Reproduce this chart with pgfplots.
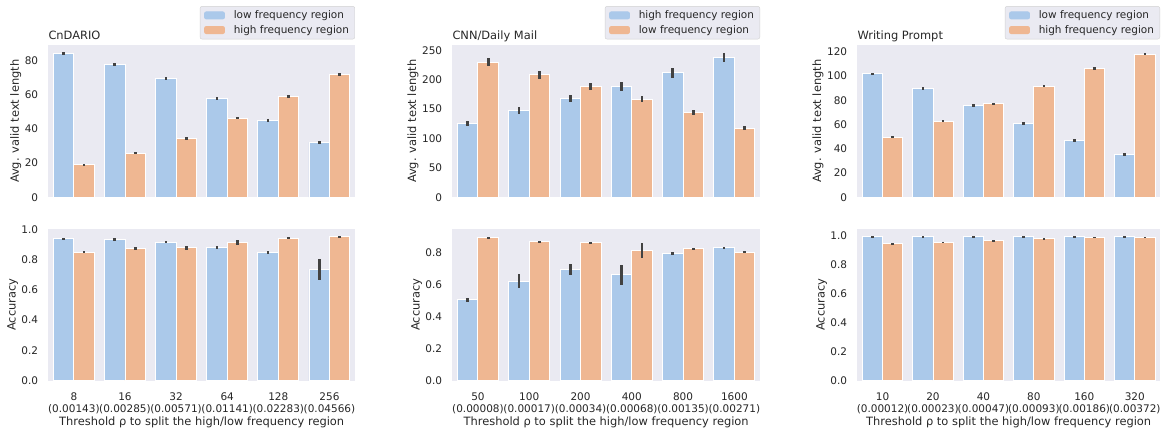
\documentclass[border=0pt]{standalone}
\usepackage{fontspec}
\setmainfont{DejaVu Sans}
\usepackage{pgfplots}
\usepackage{pgfplotstable}
\pgfplotsset{compat=1.18}

\definecolor{bgc}{HTML}{EAEAF2}
\definecolor{cblue}{HTML}{ABC9EA}
\definecolor{corange}{HTML}{EFB792}
\definecolor{errc}{HTML}{424242}
\definecolor{txtc}{HTML}{262626}

\newcommand\lab{\fontsize{11.43}{13.7}\selectfont}
\newcommand\tck{\fontsize{10.48}{11.6}\selectfont}

% x  left-bar  err  right-bar  err
\pgfplotstableread{
x lo loe hi hie
0 84.0 0.9 19.0 0.6
1 77.3 0.8 25.7 0.6
2 69.1 0.9 34.2 0.7
3 57.7 0.9 46.1 0.7
4 45.0 0.9 58.6 0.8
5 32.1 0.9 71.6 0.9
}\cnlen
\pgfplotstableread{
x lo loe hi hie
0 0.938 0.007 0.848 0.006
1 0.931 0.009 0.873 0.010
2 0.916 0.007 0.878 0.012
3 0.881 0.010 0.914 0.015
4 0.845 0.010 0.941 0.005
5 0.736 0.070 0.950 0.005
}\cnacc
\pgfplotstableread{
x lo loe hi hie
0 125.5 5.0 229.5 7.0
1 147.5 5.5 208.0 6.5
2 168.0 6.0 188.0 6.0
3 188.5 7.0 167.0 5.0
4 211.5 8.0 143.8 4.5
5 238.0 8.0 117.2 3.5
}\cnnlen
\pgfplotstableread{
x lo loe hi hie
0 0.505 0.014 0.893 0.005
1 0.622 0.045 0.870 0.006
2 0.695 0.035 0.863 0.005
3 0.662 0.063 0.815 0.045
4 0.795 0.008 0.824 0.007
5 0.831 0.007 0.804 0.007
}\cnnacc
\pgfplotstableread{
x lo loe hi hie
0 101.8 1.0 49.6 0.8
1 89.8 0.9 62.8 0.8
2 75.6 1.2 77.2 1.0
3 61.0 1.1 91.8 1.0
4 47.0 1.2 106.0 1.1
5 35.0 1.2 118.2 1.0
}\wplen
\pgfplotstableread{
x lo loe hi hie
0 0.995 0.003 0.945 0.006
1 0.995 0.003 0.955 0.006
2 0.995 0.003 0.967 0.004
3 0.995 0.003 0.981 0.005
4 0.994 0.003 0.991 0.003
5 0.994 0.003 0.991 0.003
}\wpacc

\pgfplotsset{
  every axis title shift=0pt,
  panel/.style={
    scale only axis, height=152pt,
    anchor=south west,
    xmin=-0.5, xmax=5.5, ymin=0,
    axis background/.style={fill=bgc},
    axis line style={draw=none},
    major tick length=0pt,
    tick style={draw=none},
    ticklabel style={font=\tck, text=txtc},
    yticklabel style={inner sep=0pt, xshift=-10pt},
    xticklabel style={inner sep=0pt, yshift=-12pt, align=center},
    label style={font=\lab, text=txtc},
    /pgf/number format/assume math mode=true,
    clip=false,
  },
  toprow/.style={panel, xtick=\empty,
    ylabel={Avg. valid text length},
    title style={at={(0,1)}, anchor=base west, inner sep=0pt, yshift=6pt, font=\lab, text=txtc},
    legend style={at={(1,1)}, anchor=south east, yshift=6pt,
      fill=bgc, draw=black!18, rounded corners=2pt,
      font=\tck, text=txtc, inner xsep=4pt, inner ysep=2.5pt,
      row sep=1.6pt,
      nodes={inner sep=1.8pt},
      /tikz/every odd column/.append style={column sep=7pt}},
    legend cell align=left,
  },
  botrow/.style={panel, ylabel={Accuracy}, xtick={0,...,5},
    xlabel={Threshold ρ to split the high/low frequency region},
    xlabel style={yshift=0pt},
    yticklabel style={/pgf/number format/.cd, fixed, fixed zerofill, precision=1},
  },
  lbar/.style={ybar, bar width=0.4, bar shift=0pt, fill=cblue, draw=white, line width=0.9pt,
    legend image code/.code={\fill[cblue] (0pt,-3.6pt) rectangle (20pt,3.6pt);}},
  rbar/.style={ybar, bar width=0.4, bar shift=0pt, fill=corange, draw=white, line width=0.9pt,
    legend image code/.code={\fill[corange] (0pt,-3.6pt) rectangle (20pt,3.6pt);}},
  errs/.style={error bars/.cd, y dir=both, y explicit, error mark=none,
    error bar style={line width=2.7pt, draw=errc}},
}

\begin{document}
\begin{tikzpicture}
\useasboundingbox (0,0) rectangle (1168pt,430pt);

% ---------- CnDARIO ----------
\begin{axis}[toprow, at={(48.3pt,232.7pt)}, width=306.7pt,
  ymax=88.7, ytick={0,20,...,80}, title={CnDARIO}]
\addplot[lbar, errs] table[x expr=\thisrow{x}-0.2, y=lo, y error=loe] {\cnlen};
\addplot[rbar, errs] table[x expr=\thisrow{x}+0.2, y=hi, y error=hie] {\cnlen};
\legend{low frequency region, high frequency region}
\end{axis}

\begin{axis}[botrow, at={(48.3pt,49.3pt)}, width=306.7pt,
  ymax=1.004, ytick={0,0.2,...,1.0},
  xticklabels={{8\\(0.00143)},{16\\(0.00285)},{32\\(0.00571)},{64\\(0.01141)},{128\\(0.02283)},{256\\(0.04566)}}]
\addplot[lbar, errs] table[x expr=\thisrow{x}-0.2, y=lo, y error=loe] {\cnacc};
\addplot[rbar, errs] table[x expr=\thisrow{x}+0.2, y=hi, y error=hie] {\cnacc};
\end{axis}

% ---------- CNN/Daily Mail ----------
\begin{axis}[toprow, at={(452.3pt,232.7pt)}, width=307.7pt,
  ymax=258.4, ytick={0,50,...,250}, title={CNN/Daily Mail}]
\addplot[lbar, errs] table[x expr=\thisrow{x}-0.2, y=lo, y error=loe] {\cnnlen};
\addplot[rbar, errs] table[x expr=\thisrow{x}+0.2, y=hi, y error=hie] {\cnnlen};
\legend{high frequency region, low frequency region}
\end{axis}

\begin{axis}[botrow, at={(452.3pt,49.3pt)}, width=307.7pt,
  ymax=0.95, ytick={0,0.2,...,0.8},
  xticklabels={{50\\(0.00008)},{100\\(0.00017)},{200\\(0.00034)},{400\\(0.00068)},{800\\(0.00135)},{1600\\(0.00271)}}]
\addplot[lbar, errs] table[x expr=\thisrow{x}-0.2, y=lo, y error=loe] {\cnnacc};
\addplot[rbar, errs] table[x expr=\thisrow{x}+0.2, y=hi, y error=hie] {\cnnacc};
\end{axis}

% ---------- Writing Prompt ----------
\begin{axis}[toprow, at={(857.3pt,232.7pt)}, width=302.7pt,
  ymax=125.4, ytick={0,20,...,120}, title={Writing Prompt}]
\addplot[lbar, errs] table[x expr=\thisrow{x}-0.2, y=lo, y error=loe] {\wplen};
\addplot[rbar, errs] table[x expr=\thisrow{x}+0.2, y=hi, y error=hie] {\wplen};
\legend{low frequency region, high frequency region}
\end{axis}

\begin{axis}[botrow, at={(857.3pt,49.3pt)}, width=302.7pt,
  ymax=1.05, ytick={0,0.2,...,1.0},
  xticklabels={{10\\(0.00012)},{20\\(0.00023)},{40\\(0.00047)},{80\\(0.00093)},{160\\(0.00186)},{320\\(0.00372)}}]
\addplot[lbar, errs] table[x expr=\thisrow{x}-0.2, y=lo, y error=loe] {\wpacc};
\addplot[rbar, errs] table[x expr=\thisrow{x}+0.2, y=hi, y error=hie] {\wpacc};
\end{axis}
\end{tikzpicture}
\end{document}
